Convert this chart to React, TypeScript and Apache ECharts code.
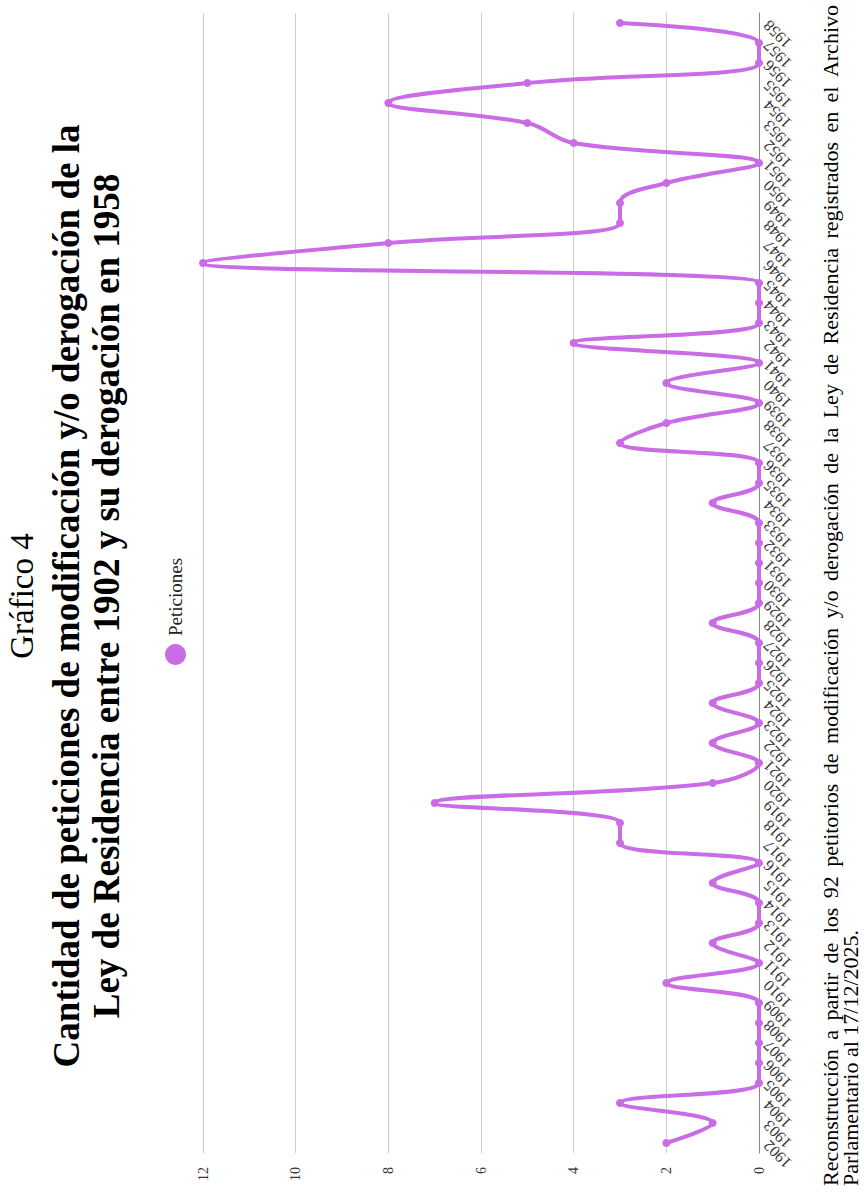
import React, { useEffect, useRef } from "react";
import * as echarts from "echarts";

const years: string[] = [
  "1902","1903","1904","1905","1906","1907","1908","1909","1910","1911",
  "1912","1913","1914","1915","1916","1917","1918","1919","1920","1921",
  "1922","1923","1924","1925","1926","1927","1928","1929","1930","1931",
  "1932","1933","1934","1935","1936","1937","1938","1939","1940","1941",
  "1942","1943","1944","1945","1946","1947","1948","1949","1950","1951",
  "1952","1953","1954","1955","1956","1957","1958",
];

const peticiones: number[] = [
  2, 1, 3, 0, 0, 0, 0, 0, 2, 0,
  1, 0, 0, 1, 0, 3, 3, 7, 1, 0,
  1, 0, 1, 0, 0, 0, 1, 0, 0, 0,
  0, 0, 1, 0, 0, 3, 2, 0, 2, 0,
  4, 0, 0, 0, 12, 8, 3, 3, 2, 0,
  4, 5, 8, 5, 0, 0, 3,
];

const SUPTITLE = "Gráfico 4";
const TITLE_1 = "Cantidad de peticiones de modificación y/o derogación de la";
const TITLE_2 = "Ley de Residencia entre 1902 y su derogación en 1958";
const FOOT_1 =
  "Reconstrucción a partir de los 92 petitorios de modificación y/o derogación de la Ley de Residencia registrados en el Archivo";
const FOOT_2 = "Parlamentario al 17/12/2025.";
const SERIES_NAME = "Peticiones";

const W = 1192;
const H = 864;
const SERIF = "'Liberation Serif', 'Times New Roman', serif";
const LINE_COLOR = "#c96ce6";

function justifiedLine(text: string, left: number, right: number, y: number, size: number) {
  const ctx = document.createElement("canvas").getContext("2d")!;
  ctx.font = `${size}px ${SERIF}`;
  const words = text.split(" ");
  const widths = words.map((w) => ctx.measureText(w).width);
  const total = widths.reduce((a, b) => a + b, 0);
  const gap = (right - left - total) / (words.length - 1);
  let x = left;
  return words.map((w, i) => {
    const el = {
      type: "text",
      x,
      y,
      style: {
        text: w,
        font: `${size}px ${SERIF}`,
        fill: "#000",
        textAlign: "left",
        textVerticalAlign: "middle",
      },
    };
    x += widths[i] + gap;
    return el;
  });
}

export default function App() {
  const ref = useRef<HTMLDivElement>(null);
  useEffect(() => {
    if (!ref.current) return;
    const chart = echarts.init(ref.current, null, { renderer: "svg" });
    const footSize = 22;
    chart.setOption({
      animation: false,
      backgroundColor: "#fff",
      textStyle: { fontFamily: SERIF },
      graphic: [
        {
          type: "text",
          x: W / 2,
          y: 22,
          style: { text: SUPTITLE, font: `33px ${SERIF}`, fill: "#000", textAlign: "center", textVerticalAlign: "middle" },
        },
        {
          type: "text",
          x: W / 2,
          y: 66,
          style: { text: TITLE_1, font: `bold 37px ${SERIF}`, fill: "#000", textAlign: "center", textVerticalAlign: "middle" },
        },
        {
          type: "text",
          x: W / 2,
          y: 106,
          style: { text: TITLE_2, font: `bold 37px ${SERIF}`, fill: "#000", textAlign: "center", textVerticalAlign: "middle" },
        },
        ...justifiedLine(FOOT_1, 6, 1187, 830, footSize),
        {
          type: "text",
          x: 6,
          y: 850,
          style: { text: FOOT_2, font: `${footSize}px ${SERIF}`, fill: "#000", textAlign: "left", textVerticalAlign: "middle" },
        },
      ],
      legend: {
        data: [{ name: SERIES_NAME, icon: "circle" }],
        left: 522,
        top: 160,
        itemWidth: 21,
        itemHeight: 21,
        textStyle: { fontFamily: SERIF, fontSize: 19, color: "#222", padding: [0, 0, 0, 3] },
      },
      grid: { left: 39, right: 13, top: 203, bottom: 105, containLabel: false },
      xAxis: {
        type: "category",
        data: years,
        boundaryGap: true,
        axisLine: { lineStyle: { color: "#888", width: 1 } },
        axisTick: { show: false },
        axisLabel: { interval: 0, rotate: 45, fontSize: 16, fontFamily: SERIF, color: "#333", margin: 7 },
      },
      yAxis: {
        type: "value",
        min: 0,
        max: 12,
        interval: 2,
        axisLine: { show: false },
        axisTick: { show: false },
        splitLine: { lineStyle: { color: "#cccccc", width: 1 } },
        axisLabel: { fontSize: 14, fontFamily: SERIF, color: "#333", margin: 14 },
      },
      series: [
        {
          name: SERIES_NAME,
          type: "line",
          data: peticiones,
          smooth: 0.4,
          symbol: "circle",
          symbolSize: 8,
          lineStyle: { color: LINE_COLOR, width: 4 },
          itemStyle: { color: LINE_COLOR },
          emphasis: { disabled: true },
        },
      ],
    });
    return () => chart.dispose();
  }, []);
  return (
    <div style={{ position: "fixed", left: 0, top: 0, width: 864, height: 1192, overflow: "hidden", background: "#fff" }}>
      <div
        ref={ref}
        style={{
          position: "absolute",
          left: 0,
          top: 0,
          width: W,
          height: H,
          transform: "translate(0px, 1192px) rotate(-90deg)",
          transformOrigin: "0 0",
        }}
      />
    </div>
  );
}
